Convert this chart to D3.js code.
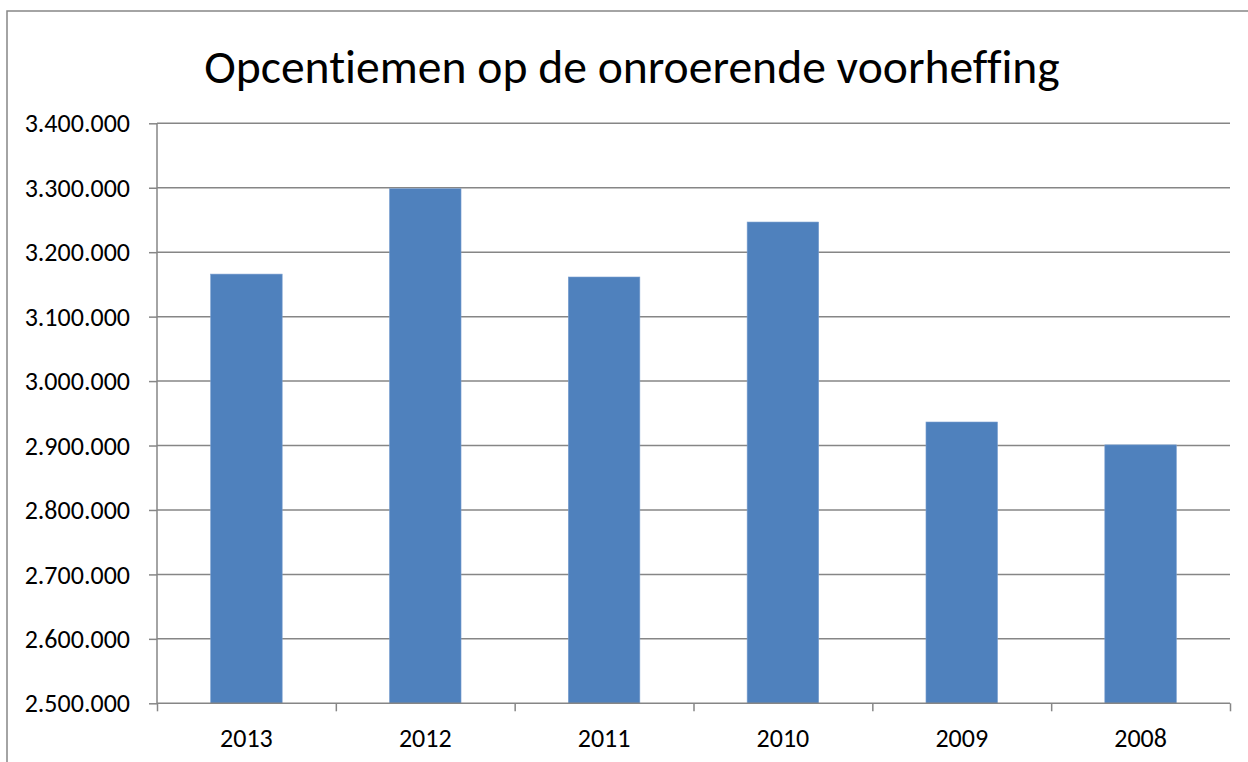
<!DOCTYPE html>
<html>
<head>
<meta charset="utf-8">
<script src="https://cdn.jsdelivr.net/npm/d3@7"></script>
<style>
  html, body { margin: 0; padding: 0; background: #fff; }
  svg { display: block; }
  text { font-family: Calibri, Carlito, "Liberation Sans", Arial, sans-serif; fill: #000; font-variant-ligatures: none; font-feature-settings: "liga" 0, "clig" 0; }
</style>
</head>
<body>
<svg id="chart" width="1248" height="762"></svg>
<script>
// ---- data ----
const title = "Opcentiemen op de onroerende voorheffing";
const categories = ["2013", "2012", "2011", "2010", "2009", "2008"];
const values = [3166000, 3298500, 3161500, 3246800, 2936500, 2901000];
const yTicks = [2500000, 2600000, 2700000, 2800000, 2900000, 3000000, 3100000, 3200000, 3300000, 3400000];
const yDomain = [2500000, 3400000];

// ---- layout ----
const W = 1248, H = 762;
const plot = { left: 157, right: 1230, top: 123.3, bottom: 703.3 };
const svg = d3.select("#chart");

// outer chart border (extends beyond the view on right/bottom)
svg.append("rect")
  .attr("x", 7).attr("y", 11)
  .attr("width", W + 20).attr("height", H + 20)
  .attr("fill", "none").attr("stroke", "#878787").attr("stroke-width", 1.5);

const locale = d3.formatLocale({ decimal: ",", thousands: ".", grouping: [3], currency: ["€", ""] });
const fmt = locale.format(",d");

const y = d3.scaleLinear().domain(yDomain).range([plot.bottom, plot.top]);
const x = d3.scaleBand().domain(categories).range([plot.left, plot.right])
  .paddingInner(0.6).paddingOuter(0.3);
const xEdges = d3.scaleLinear().domain([0, categories.length]).range([plot.left, plot.right]);

// gridlines
svg.append("g").selectAll("line").data(yTicks.filter(d => d !== yDomain[0])).join("line")
  .attr("x1", plot.left).attr("x2", plot.right)
  .attr("y1", d => y(d)).attr("y2", d => y(d))
  .attr("stroke", "#868686").attr("stroke-width", 1.5);

// bars
svg.append("g").selectAll("rect").data(values).join("rect")
  .attr("x", (d, i) => x(categories[i]))
  .attr("width", x.bandwidth())
  .attr("y", d => y(d))
  .attr("height", d => y(yDomain[0]) - y(d))
  .attr("fill", "#4F81BD")
  .attr("stroke", "#7A9FCF").attr("stroke-width", 0.6);

// y axis
const yAxis = d3.axisLeft(y).tickValues(yTicks).tickSize(8).tickPadding(19).tickFormat(fmt);
const gy = svg.append("g").attr("transform", `translate(${plot.left},0)`).call(yAxis);
gy.select(".domain").attr("stroke", "#868686").attr("stroke-width", 1.5).attr("d", `M0,${plot.top}V${plot.bottom}`);
gy.selectAll(".tick line").attr("stroke", "#868686").attr("stroke-width", 1.5);
gy.selectAll(".tick text")
  .attr("font-size", 26).attr("dy", "0.33em")
  .style("font-family", 'Calibri, Carlito, "Liberation Sans", Arial, sans-serif').attr("fill", "#000");

// x axis: tick marks at category boundaries
const xAxisTicks = d3.axisBottom(xEdges).tickValues(d3.range(categories.length + 1))
  .tickSize(8).tickFormat("");
const gx = svg.append("g").attr("transform", `translate(0,${plot.bottom})`).call(xAxisTicks);
gx.select(".domain").attr("stroke", "#868686").attr("stroke-width", 1.5).attr("d", `M${plot.left},0H${plot.right}`);
gx.selectAll(".tick line").attr("stroke", "#868686").attr("stroke-width", 1.5);

// x labels
svg.append("g").selectAll("text").data(categories).join("text")
  .attr("x", d => x(d) + x.bandwidth() / 2)
  .attr("y", 747)
  .attr("text-anchor", "middle")
  .attr("font-size", 26)
  .text(d => d);

// title
const t = svg.append("text")
  .attr("x", 632).attr("y", 83)
  .attr("text-anchor", "middle")
  .attr("font-size", 45)
  .text(title);
const targetW = 856;
const w = t.node().getComputedTextLength();
if (w > 0) t.attr("font-size", 45 * targetW / w);
</script>
</body>
</html>
